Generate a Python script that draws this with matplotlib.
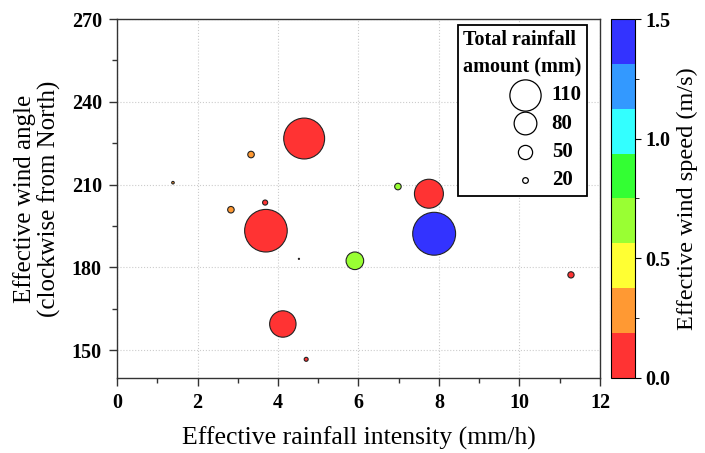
import matplotlib
matplotlib.use('Agg')
import numpy as np
from matplotlib import pyplot as plt, ticker
from matplotlib.colors import ListedColormap, BoundaryNorm

plt.rcParams['font.family'] = ['Liberation Serif', 'DejaVu Serif']

# rainfall intensity (mm/h), wind angle (deg), wind speed (m/s), total rainfall (mm)
intensity = [4.65, 3.33, 1.39, 6.98, 7.75, 3.68, 2.83, 3.70, 7.88, 4.52, 5.91, 11.28, 4.12, 4.70]
angle = [226.7, 220.9, 210.7, 209.3, 206.7, 203.5, 200.9, 193.3, 192.2, 183.1, 182.4, 177.3, 159.5, 146.7]
wind_speed = [0.08, 0.30, 0.28, 0.65, 0.10, 0.05, 0.30, 0.12, 1.40, 0.10, 0.62, 0.08, 0.10, 0.06]
rainfall = [144, 23, 9, 23, 102, 18, 23, 150, 151, 4, 62, 22, 93, 14]

legend_values = [110, 80, 50, 20]
colors = ['#FF3333', '#FF9933', '#FFFF33', '#99FF33', '#33FF33', '#33FFFF', '#3399FF', '#3333FF']
levels = np.linspace(0, 1.5, 9)


def marker_size(v):
    # radius ~0.142 px per mm at 100 dpi
    d = 2 * 0.142 * np.asarray(v, dtype=float) * 0.72
    return d ** 2


cmap = ListedColormap(colors)
norm = BoundaryNorm(levels, cmap.N)

fig = plt.figure(figsize=(7.05, 4.53), dpi=100)
ax = fig.add_axes([0.166, 0.166, 0.685, 0.792])
cax = fig.add_axes([0.867, 0.166, 0.033, 0.792])

sc = ax.scatter(intensity, angle, s=marker_size(rainfall), c=wind_speed, cmap=cmap, norm=norm,
                edgecolors='#222222', linewidths=0.8, zorder=3)

ax.set_xlim(0, 12)
ax.set_ylim(140, 270)
ax.xaxis.set_major_locator(ticker.MultipleLocator(2))
ax.xaxis.set_minor_locator(ticker.MultipleLocator(1))
ax.yaxis.set_major_locator(ticker.MultipleLocator(30))
ax.yaxis.set_minor_locator(ticker.MultipleLocator(15))
ax.tick_params(which='both', direction='out', top=False, right=False, width=1, colors='#333333')
ax.tick_params(which='major', length=6, pad=5, labelsize=14.5, labelcolor='black')
ax.tick_params(which='minor', length=3.5)
for lab in ax.get_xticklabels() + ax.get_yticklabels():
    lab.set_fontweight('bold')
ax.grid(True, which='major', linestyle=':', color='#cccccc', linewidth=0.8, zorder=0)
for sp in ax.spines.values():
    sp.set_linewidth(1.0)
    sp.set_color('#333333')

ax.set_xlabel('Effective rainfall intensity (mm/h)', fontsize=18.5, labelpad=10)
ax.set_ylabel('Effective wind angle\n(clockwise from North)', fontsize=18, labelpad=8, linespacing=1.05)

# size legend
handles = [ax.scatter([], [], s=marker_size(v), facecolors='white', edgecolors='black', linewidths=0.9)
           for v in legend_values]
leg = ax.legend(handles, [str(v) for v in legend_values], title='Total rainfall\namount (mm)',
                loc='upper right', bbox_to_anchor=(0.973, 0.983), borderaxespad=0,
                frameon=True, fancybox=False,
                edgecolor='black', framealpha=1, labelspacing=0.4, handletextpad=0.3,
                borderpad=0.25, prop={'weight': 'bold', 'size': 15}, scatterpoints=1,
                markerfirst=True)
leg.get_frame().set_linewidth(1.3)
leg.get_title().set_fontweight('bold')
leg.get_title().set_fontsize(14.5)
leg.get_title().set_linespacing(1.45)
leg._legend_box.align = 'right'

cb = fig.colorbar(sc, cax=cax, ticks=[0, 0.5, 1.0, 1.5])
cb.outline.set_linewidth(0.8)
cb.ax.yaxis.set_minor_locator(ticker.FixedLocator([0.25, 0.75, 1.25]))
cb.ax.tick_params(which='major', length=4, labelsize=14.5)
cb.ax.tick_params(which='minor', length=3)
cb.ax.set_yticklabels(['0.0', '0.5', '1.0', '1.5'], fontweight='bold')
cb.set_label('Effective wind speed (m/s)', fontsize=17.5, labelpad=5)

fig.savefig('out.png', dpi=100)
